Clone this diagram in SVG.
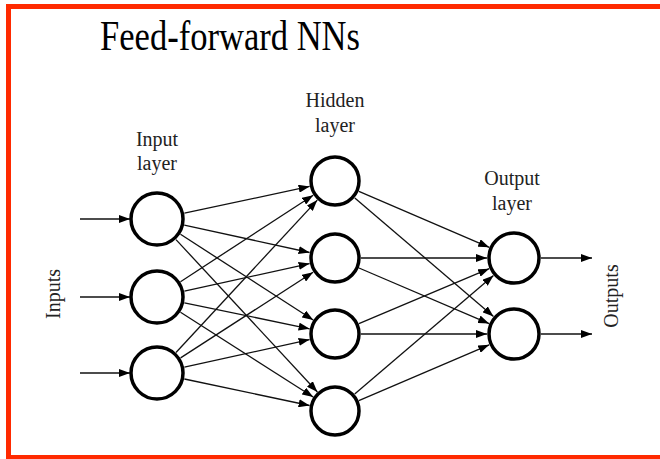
<svg xmlns="http://www.w3.org/2000/svg" width="660" height="459" viewBox="0 0 660 459">
<style>
.node{fill:#fff;stroke:#000;stroke-width:3.5}
.conn line{stroke:#111;stroke-width:1.3;marker-end:url(#ah)}
.lbl{font-family:"Liberation Serif","Times New Roman",serif;font-size:20px;fill:#222;text-anchor:middle}
.title{font-family:"Liberation Serif","Times New Roman",serif;font-size:42px;fill:#000;text-anchor:middle}
</style>
<defs>
<marker id="ah" markerUnits="userSpaceOnUse" viewBox="0 0 11 8" markerWidth="11" markerHeight="8" refX="11" refY="4" orient="auto">
<path d="M0,0 L11,4 L0,8 z" fill="#000"/>
</marker>
</defs>
<rect x="0" y="0" width="660" height="459" fill="#fff"/>
<rect x="8.5" y="6.5" width="680" height="451" fill="none" stroke="#ff2a00" stroke-width="5"/>
<text class="title" x="230" y="50" textLength="260" lengthAdjust="spacingAndGlyphs">Feed-forward NNs</text>
<text class="lbl" x="157" y="146">Input</text>
<text class="lbl" x="157" y="170">layer</text>
<text class="lbl" x="335" y="107">Hidden</text>
<text class="lbl" x="335" y="132">layer</text>
<text class="lbl" x="512" y="185">Output</text>
<text class="lbl" x="512" y="210">layer</text>
<text class="lbl" transform="translate(60,294) rotate(-90)">Inputs</text>
<text class="lbl" transform="translate(618,296) rotate(-90)">Outputs</text>
<g class="conn" id="connectors">
<line x1="80" y1="219" x2="130" y2="219"/>
<line x1="80" y1="297" x2="130" y2="297"/>
<line x1="80" y1="373" x2="130" y2="373"/>
<line x1="184.4" y1="213.2" x2="309.6" y2="186.4"/>
<line x1="184.3" y1="225.1" x2="309.6" y2="252.5"/>
<line x1="180.5" y1="234.3" x2="313.2" y2="320"/>
<line x1="176" y1="239.6" x2="317.4" y2="392"/>
<line x1="180.5" y1="281.7" x2="313.2" y2="195.2"/>
<line x1="184.4" y1="291.2" x2="309.6" y2="263.6"/>
<line x1="184.4" y1="302.8" x2="309.6" y2="328.8"/>
<line x1="180.5" y1="312.2" x2="313.2" y2="397"/>
<line x1="176" y1="352.5" x2="317.3" y2="200.1"/>
<line x1="180.6" y1="357.9" x2="313.1" y2="272.2"/>
<line x1="184.4" y1="367.2" x2="309.6" y2="339.6"/>
<line x1="184.4" y1="379" x2="309.6" y2="405.5"/>
<line x1="358.9" y1="191.3" x2="489.2" y2="247.3"/>
<line x1="354.8" y1="197.9" x2="493.5" y2="316.5"/>
<line x1="361" y1="258" x2="487" y2="258"/>
<line x1="359" y1="268" x2="489.1" y2="323.6"/>
<line x1="358.9" y1="323.7" x2="489.2" y2="268.7"/>
<line x1="361" y1="334" x2="487" y2="334"/>
<line x1="354.7" y1="394" x2="493.5" y2="275.6"/>
<line x1="358.8" y1="400.6" x2="489.2" y2="344.8"/>
<line x1="541" y1="258" x2="592" y2="258"/>
<line x1="541" y1="334" x2="592" y2="334"/>
</g>
<g id="in1"><circle class="node" cx="157" cy="219" r="26"/></g>
<g id="in2"><circle class="node" cx="157" cy="297" r="26"/></g>
<g id="in3"><circle class="node" cx="157" cy="373" r="26"/></g>
<g id="h1"><circle class="node" cx="335" cy="181" r="24"/></g>
<g id="h2"><circle class="node" cx="335" cy="258" r="24"/></g>
<g id="h3"><circle class="node" cx="335" cy="334" r="24"/></g>
<g id="h4"><circle class="node" cx="335" cy="411" r="24"/></g>
<g id="out1"><circle class="node" cx="514" cy="258" r="25"/></g>
<g id="out2"><circle class="node" cx="514" cy="334" r="25"/></g>
</svg>
